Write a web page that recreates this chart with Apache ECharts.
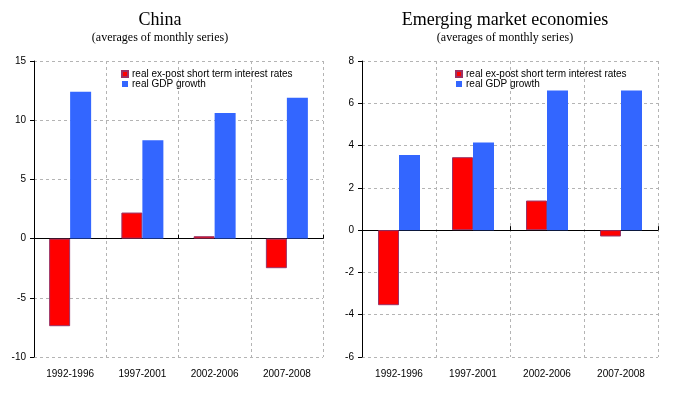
<!DOCTYPE html>
<html>
<head>
<meta charset="utf-8">
<script src="https://cdn.jsdelivr.net/npm/echarts@6/dist/echarts.min.js"></script>
<style>html,body{margin:0;padding:0;background:#fff;}#c{width:676px;height:393px;}</style>
</head>
<body>
<div id="c"></div>
<script>
const categories = ['1992-1996', '1997-2001', '2002-2006', '2007-2008'];
const chinaRate = [-7.4, 2.2, 0.2, -2.5];
const chinaGdp = [12.4, 8.3, 10.6, 11.9];
const emeRate = [-3.55, 3.45, 1.4, -0.3];
const emeGdp = [3.55, 4.15, 6.6, 6.6];
const rateName = 'real ex-post short term interest rates';
const gdpName = 'real GDP growth';

const chart = echarts.init(document.getElementById('c'));
const serif = 'Liberation Serif';
const sans = 'Liberation Sans';
const gridLine = {show: true, lineStyle: {color: '#b4b4b4', type: [3, 3], width: 1}};

function titleFor(text, cx) {
  return {
    text: text, subtext: '(averages of monthly series)', left: cx, top: 11, textAlign: 'center',
    itemGap: 3, padding: 0,
    textStyle: {fontFamily: serif, fontSize: 18, fontWeight: 'normal', color: '#000'},
    subtextStyle: {fontFamily: serif, fontSize: 12, color: '#000'}
  };
}
function legendFor(x) {
  return {
    left: x, top: 69, orient: 'vertical', padding: 0, itemGap: 0,
    itemWidth: 6, itemHeight: 6, icon: 'rect', selectedMode: false,
    data: [rateName, gdpName],
    textStyle: {fontFamily: sans, fontSize: 10, color: '#000', lineHeight: 10, padding: [0, 0, 0, -1]}
  };
}
function labelAxis(g) {
  return {
    type: 'category', gridIndex: g, data: categories, position: 'bottom',
    axisLine: {show: false, onZero: false}, axisTick: {show: false},
    axisLabel: {margin: 12, fontFamily: sans, fontSize: 10, color: '#000'},
    splitLine: gridLine
  };
}
function zeroAxis(g) {
  return {
    type: 'category', gridIndex: g, data: categories,
    axisLine: {show: true, onZero: true, lineStyle: {color: '#000', width: 1}},
    axisTick: {show: true, length: 4, lineStyle: {color: '#000'}},
    axisLabel: {show: false}, splitLine: {show: false}
  };
}
function valAxis(g, min, max, step) {
  return {
    type: 'value', gridIndex: g, min: min, max: max, interval: step,
    axisLine: {show: true, lineStyle: {color: '#000', width: 1}},
    axisTick: {show: true, length: 4, lineStyle: {color: '#000'}},
    axisLabel: {margin: 8, fontFamily: sans, fontSize: 10, color: '#000'},
    splitLine: gridLine
  };
}
function bars(name, data, xi, yi, color, border) {
  return {
    name: name, type: 'bar', xAxisIndex: xi, yAxisIndex: yi, data: data,
    barWidth: 21, barGap: '0%', silent: true,
    itemStyle: {color: color, borderColor: border, borderWidth: border ? 1 : 0}
  };
}

chart.setOption({
  animation: false,
  backgroundColor: '#fff',
  title: [titleFor('China', 160), titleFor('Emerging market economies', 505)],
  legend: [legendFor(121), legendFor(455)],
  grid: [
    {left: 34, top: 61, width: 289, height: 296},
    {left: 362, top: 61, width: 296, height: 296}
  ],
  xAxis: [labelAxis(0), zeroAxis(0), labelAxis(1), zeroAxis(1)],
  yAxis: [valAxis(0, -10, 15, 5), valAxis(1, -6, 8, 2)],
  series: [
    bars(rateName, chinaRate, 0, 0, '#ff0000', '#993366'),
    bars(gdpName, chinaGdp, 0, 0, '#3366ff', null),
    bars(rateName, emeRate, 2, 1, '#ff0000', '#993366'),
    bars(gdpName, emeGdp, 2, 1, '#3366ff', null)
  ]
});
</script>
</body>
</html>
